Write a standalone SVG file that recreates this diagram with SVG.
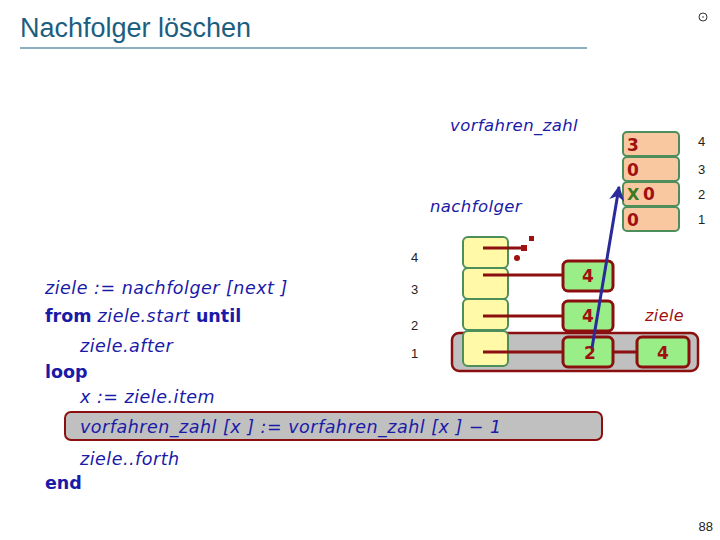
<svg xmlns="http://www.w3.org/2000/svg" width="720" height="540" viewBox="0 0 720 540">
<style>
.code{font-family:"DejaVu Sans",sans-serif;font-style:italic;font-size:17.5px;letter-spacing:0.5px;fill:#1a1aa8}
.kw{font-family:"DejaVu Sans",sans-serif;font-weight:bold;font-style:normal;font-size:17.5px;fill:#1a1aa8}
.lbl{font-family:"DejaVu Sans",sans-serif;font-style:italic;font-size:16.5px;letter-spacing:0.4px;fill:#1a1aa8}
.idx{font-family:"Liberation Sans",sans-serif;font-size:13px;fill:#222}
.vbox{fill:#f9c8a0;stroke:#4d8f5a;stroke-width:2}
.nbox{fill:#fff9a8;stroke:#4d8f5a;stroke-width:2}
.gbox{fill:#99ee88;stroke:#8b0f0f;stroke-width:3}
.num{font-family:"DejaVu Sans",sans-serif;font-weight:bold;font-size:17px;fill:#a01010}
.link{stroke:#8b0f0f;stroke-width:3;fill:none}
</style>
<defs>
<marker id="ah" viewBox="0 0 10 10" refX="9" refY="5" markerWidth="5" markerHeight="5" orient="auto" markerUnits="strokeWidth">
<path d="M0,0 L10,5 L0,10 L3,5 z" fill="#2a2a9a"/>
</marker>
</defs>
<g id="title">
<text x="20" y="37" font-family="Liberation Sans, sans-serif" font-size="27" fill="#1b5e80">Nachfolger löschen</text>
<line x1="20" y1="48" x2="587" y2="48" stroke="#1b5e80" stroke-width="1.2"/>
<circle cx="703" cy="17" r="4" fill="none" stroke="#333" stroke-width="1"/>
<circle cx="703" cy="17" r="0.8" fill="#333"/>
</g>
<g id="label-vorfahren"><text class="lbl" x="450" y="131">vorfahren_zahl</text></g>
<g id="label-nachfolger"><text class="lbl" x="430" y="212">nachfolger</text></g>
<g id="vorfahren-table">
<rect class="vbox" x="623" y="132" width="56" height="24" rx="4"/>
<rect class="vbox" x="623" y="157" width="56" height="24" rx="4"/>
<rect class="vbox" x="623" y="182" width="56" height="24" rx="4"/>
<rect class="vbox" x="623" y="207" width="56" height="24" rx="4"/>
<text class="num" x="627" y="151">3</text>
<text class="num" x="627" y="176">0</text>
<text x="627" y="200" font-family="DejaVu Sans, sans-serif" font-weight="bold" font-size="16" fill="#3a7a20">X</text>
<text class="num" x="643" y="200">0</text>
<text class="num" x="627" y="226">0</text>
<text class="idx" x="698" y="146">4</text>
<text class="idx" x="698" y="174">3</text>
<text class="idx" x="698" y="199">2</text>
<text class="idx" x="698" y="224">1</text>
</g>
<g id="ziele-frame">
<rect x="452" y="333" width="246" height="38" rx="7" fill="#c0c0c0" stroke="#8b0f0f" stroke-width="2.5"/>
</g>
<g id="nachfolger-table">
<rect class="nbox" x="463" y="237" width="45" height="31" rx="5"/>
<rect class="nbox" x="463" y="268" width="45" height="31" rx="5"/>
<rect class="nbox" x="463" y="299" width="45" height="31" rx="5"/>
<rect class="nbox" x="463" y="331" width="45" height="35" rx="5"/>
<text class="idx" x="411" y="262">4</text>
<text class="idx" x="411" y="294">3</text>
<text class="idx" x="411" y="330">2</text>
<text class="idx" x="411" y="358">1</text>
</g>
<g id="connectors">
<line class="link" x1="483" y1="248" x2="524" y2="248"/>
<line class="link" x1="483" y1="275" x2="563" y2="275"/>
<line class="link" x1="483" y1="316" x2="563" y2="316"/>
<line class="link" x1="483" y1="352" x2="563" y2="352"/>
<line class="link" x1="613" y1="352" x2="637" y2="352"/>
<rect x="521" y="245" width="6" height="6" fill="#a01010"/>
<rect x="529" y="236" width="5" height="5" fill="#a01010"/>
<circle cx="517" cy="258" r="3" fill="#a01010"/>
</g>
<g id="list-nodes">
<rect class="gbox" x="563" y="261" width="50" height="30" rx="5"/>
<text class="num" x="588" y="282" text-anchor="middle">4</text>
<rect class="gbox" x="563" y="301" width="50" height="30" rx="5"/>
<text class="num" x="588" y="322" text-anchor="middle">4</text>
<rect class="gbox" x="563" y="337" width="50" height="30" rx="5"/>
<text class="num" x="590" y="359" text-anchor="middle">2</text>
<rect class="gbox" x="637" y="337" width="52" height="30" rx="5"/>
<text class="num" x="663" y="359" text-anchor="middle">4</text>
</g>
<g id="label-ziele"><text x="645" y="321" font-family="DejaVu Sans, sans-serif" font-style="italic" font-size="16" letter-spacing="0.4" fill="#a01010">ziele</text></g>
<g id="pointer">
<line x1="592" y1="348" x2="619" y2="187" stroke="#2a2a9a" stroke-width="3" marker-end="url(#ah)"/>
</g>
<g id="code">
<rect x="65" y="412" width="537" height="28" rx="6" fill="#c0c0c0" stroke="#8b0f0f" stroke-width="2"/>
<text class="code" x="45" y="294">ziele := nachfolger [next ]</text>
<text x="45" y="322"><tspan class="kw">from</tspan><tspan class="code"> ziele.start </tspan><tspan class="kw">until</tspan></text>
<text class="code" x="80" y="352">ziele.after</text>
<text class="kw" x="45" y="378">loop</text>
<text class="code" x="80" y="403">x := ziele.item</text>
<text class="code" x="80" y="433">vorfahren_zahl [x ] := vorfahren_zahl [x ] − 1</text>
<text class="code" x="80" y="465">ziele..forth</text>
<text class="kw" x="45" y="489">end</text>
</g>
<g id="page"><text x="713" y="531" text-anchor="end" font-family="Liberation Sans, sans-serif" font-size="13" fill="#222">88</text></g>
</svg>
